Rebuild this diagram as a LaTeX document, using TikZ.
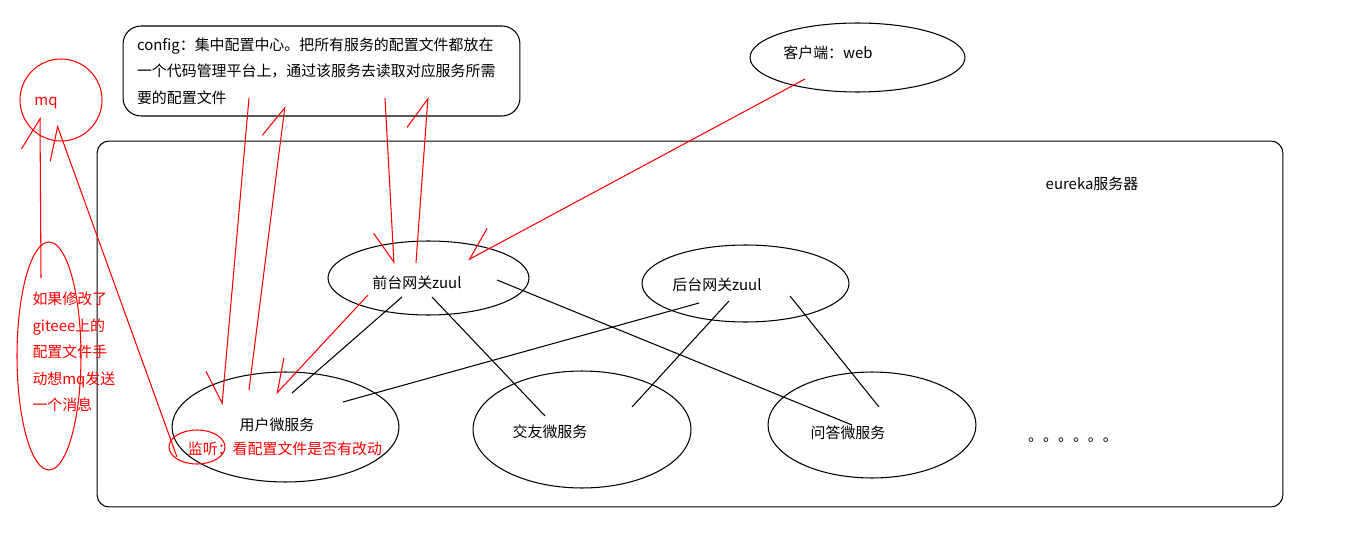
\documentclass[tikz,border=0pt]{standalone}
\usepackage{fontspec}
\setmainfont{Noto Sans CJK SC}
\usetikzlibrary{arrows.meta,positioning,calc,shapes.geometric}

\begin{document}
\begin{tikzpicture}[
    x=0.02cm, y=-0.02cm,
    font=\fontsize{8.5pt}{15pt}\selectfont,
    line width=0.6pt,
    oval/.style={draw, ellipse, inner sep=0pt},
    txt/.style={inner sep=0pt, align=left},
    link/.style={draw},
    barb/.style={draw=red, -{Straight Barb[harpoon, length=0.6cm, width=0.75cm]}},
    barbswap/.style={draw=red, -{Straight Barb[harpoon, swap, length=0.6cm, width=0.75cm]}}
  ]
  \useasboundingbox (0,0) rectangle (1359,537);

  % config centre
  \node[draw, rounded corners=0.36cm, minimum width=7.94cm, minimum height=1.8cm,
        text width=7.38cm, inner xsep=0.28cm, align=left] (cfg) at (321.5,71)
    {config：集中配置中心。把所有服务的配置文件都放在\\一个代码管理平台上，通过该服务去读取对应服务所需\\要的配置文件};

  % client
  \node[oval, minimum width=4.3cm, minimum height=1.38cm] (client) at (857.5,57.5) {};
  \node[txt] (client-t) at (828,53) {客户端：web};

  % eureka frame
  \node[draw, rounded corners=0.24cm, minimum width=23.72cm, minimum height=7.32cm] (eur) at (690,324) {};
  \node[txt] (eur-t) at (1092,184) {eureka服务器};

  % gateways
  \node[oval, minimum width=4.02cm, minimum height=1.48cm] (front) at (428.5,278) {};
  \node[txt] (front-t) at (417,283) {前台网关zuul};
  \node[oval, minimum width=4.14cm, minimum height=1.54cm] (back) at (745.5,283.5) {};
  \node[txt] (back-t) at (717,285) {后台网关zuul};

  % micro services
  \node[oval, minimum width=4.54cm, minimum height=2.2cm] (user) at (285.5,427) {};
  \node[txt] (user-t) at (277,425) {用户微服务};
  \node[oval, minimum width=4.36cm, minimum height=2.34cm] (fri) at (582,429.5) {};
  \node[txt] (fri-t) at (550,432) {交友微服务};
  \node[oval, minimum width=4.16cm, minimum height=2.12cm] (qa) at (872,425) {};
  \node[txt] (qa-t) at (848,433) {问答微服务};
  \node[inner sep=0pt, anchor=base] (dots) at (1073,441) {。。。。。。};

  % mq and notes (red)
  \node[draw=red, circle, minimum size=1.64cm, inner sep=0pt] (mq) at (61,100) {};
  \node[txt, red] (mq-t) at (46,103) {mq};
  \node[oval, draw=red, minimum width=1.28cm, minimum height=4.56cm] (note) at (49,356) {};
  \node[txt, red, anchor=west] (note-t) at (32,352)
    {如果修改了\\giteee上的\\配置文件手\\动想mq发送\\一个消息};
  \node[oval, draw=red, minimum width=1.12cm, minimum height=0.68cm] (lis) at (197,447) {};
  \node[txt, red] (lis-t) at (285,449) {监听：看配置文件是否有改动};

  % gateway links
  \draw[link] ($(front)+(-26.5,19)$) -- ($(user)+(6.5,-34)$);
  \draw[link] ($(front)+(3.5,19)$) -- ($(fri)+(-37,-13.5)$);
  \draw[link] ($(front)+(68.5,2)$) -- ($(qa)+(-20,0)$);
  \draw[link] ($(back)+(-46.5,19.5)$) -- ($(user)+(57.5,-25)$);
  \draw[link] ($(back)+(-16.5,17.5)$) -- ($(fri)+(50,-22.5)$);
  \draw[link] ($(back)+(44.5,12.5)$) -- ($(qa)+(7,-18)$);

  % red arrows
  \draw[barb] ($(note)+(-8,-78)$) -- ($(mq)+(-21,17)$);
  \draw[barb] ($(lis)+(-20,10)$) -- ($(mq)+(-4,25)$);
  \draw[barbswap] ($(cfg)+(-72.5,27)$) -- ($(user)+(-63.5,-22)$);
  \draw[barb] ($(user)+(-36.5,-37)$) -- ($(cfg)+(-36.5,35)$);
  \draw[barbswap] ($(cfg)+(63.5,27)$) -- ($(front)+(-34.5,-14)$);
  \draw[barb] ($(front)+(-12.5,-15)$) -- ($(cfg)+(106.5,26)$);
  \draw[barbswap] ($(client)+(-52.5,21.5)$) -- ($(front)+(39.5,-18)$);
  \draw[barbswap] ($(front)+(-60.5,17)$) -- ($(user)+(-9.5,-33)$);
\end{tikzpicture}
\end{document}
